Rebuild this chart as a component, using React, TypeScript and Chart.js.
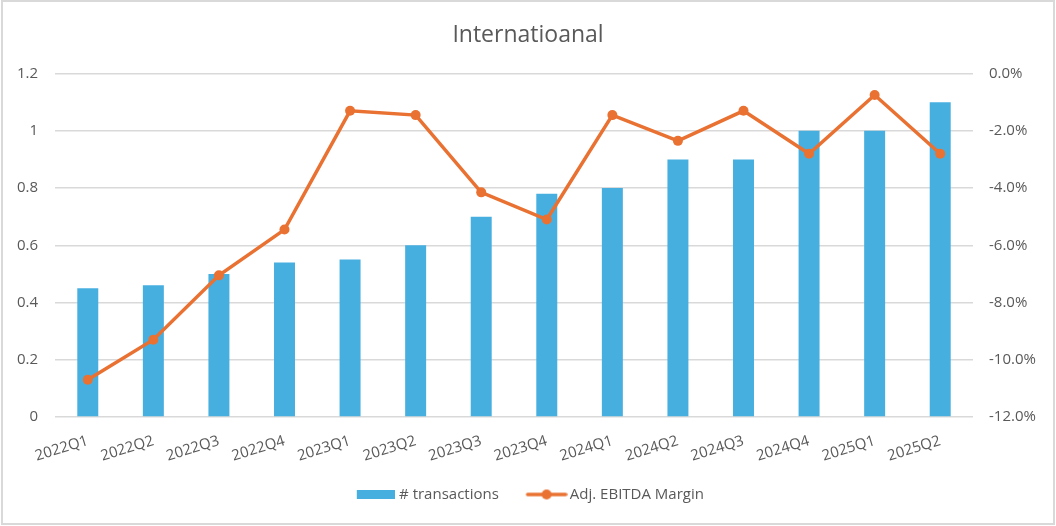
import React, { useEffect, useRef } from "react";
import { Chart, registerables } from "chart.js";

Chart.register(...registerables);

const TITLE = "Internatioanal";
const categories = [
  "2022Q1", "2022Q2", "2022Q3", "2022Q4",
  "2023Q1", "2023Q2", "2023Q3", "2023Q4",
  "2024Q1", "2024Q2", "2024Q3", "2024Q4",
  "2025Q1", "2025Q2",
];
const transactions = [0.45, 0.46, 0.5, 0.54, 0.55, 0.6, 0.7, 0.78, 0.8, 0.9, 0.9, 1.0, 1.0, 1.1];
const ebitdaMargin = [-10.7, -9.3, -7.05, -5.45, -1.3, -1.45, -4.15, -5.1, -1.45, -2.35, -1.3, -2.8, -0.75, -2.8];
const leftTicks = { min: 0, max: 1.2, step: 0.2 };
const rightTicks = { min: -12, max: 0, step: 2 };
const seriesNames = ["# transactions", "Adj. EBITDA Margin"];

const BLUE = "#47AFE0";
const ORANGE = "#E97132";
const TEXT = "#595959";
const GRID = "#d9d9d9";
const FONT = "'Open Sans', 'Liberation Sans', sans-serif";

// legend icons: drawn in the right part of a slightly wider, transparent canvas
function makeBarIcon() {
  const c = document.createElement("canvas");
  c.width = 46;
  c.height = 9;
  const ctx = c.getContext("2d")!;
  ctx.fillStyle = BLUE;
  ctx.fillRect(8, 0, 38, 9);
  return c;
}
function makeLineIcon() {
  const c = document.createElement("canvas");
  c.width = 50;
  c.height = 12;
  const ctx = c.getContext("2d")!;
  ctx.strokeStyle = ORANGE;
  ctx.lineWidth = 3.5;
  ctx.lineCap = "round";
  ctx.beginPath();
  ctx.moveTo(10, 6);
  ctx.lineTo(48, 6);
  ctx.stroke();
  ctx.fillStyle = ORANGE;
  ctx.beginPath();
  ctx.arc(29, 6, 5, 0, Math.PI * 2);
  ctx.fill();
  return c;
}

export default function App() {
  const ref = useRef<HTMLCanvasElement | null>(null);
  useEffect(() => {
    if (!ref.current) return;
    const barIcon = makeBarIcon();
    const lineIcon = makeLineIcon();
    const chart = new Chart(ref.current, {
      type: "bar",
      data: {
        labels: categories,
        datasets: [
          {
            type: "bar",
            label: seriesNames[0],
            data: transactions,
            backgroundColor: BLUE,
            barPercentage: 0.32,
            categoryPercentage: 1,
            yAxisID: "y",
            order: 2,
          },
          {
            type: "line",
            label: seriesNames[1],
            data: ebitdaMargin,
            borderColor: ORANGE,
            backgroundColor: ORANGE,
            borderWidth: 3.5,
            pointRadius: 5,
            pointBorderWidth: 0,
            pointBackgroundColor: ORANGE,
            tension: 0,
            yAxisID: "y1",
            order: 1,
          } as any,
        ],
      },
      options: {
        responsive: false,
        animation: false,
        layout: { padding: { left: 0, right: 0, top: 0, bottom: 14 } },
        plugins: {
          title: {
            display: true,
            text: TITLE,
            color: TEXT,
            font: { family: FONT, size: 23, weight: "normal" },
            padding: { top: 22, bottom: 24 },
          },
          legend: {
            position: "bottom",
            labels: {
              color: TEXT,
              font: { family: FONT, size: 15 },
              usePointStyle: true,
              pointStyleWidth: 39.5,
              padding: 24,
              generateLabels: () => [
                { text: seriesNames[0], pointStyle: barIcon as any, fillStyle: BLUE, strokeStyle: BLUE, lineWidth: 0, datasetIndex: 0, hidden: false, fontColor: TEXT },
                { text: seriesNames[1], pointStyle: lineIcon as any, fillStyle: ORANGE, strokeStyle: ORANGE, lineWidth: 0, datasetIndex: 1, hidden: false, fontColor: TEXT },
              ],
            },
          },
          tooltip: { enabled: false },
        },
        scales: {
          x: {
            grid: { display: false },
            border: { display: false },
            ticks: {
              color: TEXT,
              font: { family: FONT, size: 15 },
              autoSkip: false,
              minRotation: 17,
              maxRotation: 17,
              padding: 7,
            },
            afterFit: (s: any) => { s.height = 46; },
          },
          y: {
            position: "left",
            min: leftTicks.min,
            max: leftTicks.max,
            border: { display: false },
            grid: { color: GRID, lineWidth: 1.5, drawTicks: false },
            ticks: {
              stepSize: leftTicks.step,
              color: TEXT,
              font: { family: FONT, size: 15 },
              padding: 17,
              callback: (v: any) => String(Math.round(Number(v) * 10) / 10),
            },
            afterFit: (s: any) => { s.width = 55; },
          },
          y1: {
            position: "right",
            min: rightTicks.min,
            max: rightTicks.max,
            border: { display: false },
            grid: { display: false, drawTicks: false },
            ticks: {
              stepSize: rightTicks.step,
              color: TEXT,
              font: { family: FONT, size: 15 },
              padding: 16,
              callback: (v: any) => `${(Math.round(Number(v) * 10) / 10).toFixed(1)}%`,
            },
            afterFit: (s: any) => { s.width = 83; },
          },
        },
      },
    });
    return () => chart.destroy();
  }, []);
  return (
    <div style={{ position: "fixed", left: 0, top: 0, width: 1056, height: 526, background: "#fff" }}>
      <canvas ref={ref} width={1056} height={526} style={{ display: "block", width: 1056, height: 526 }} />
      <div
        style={{
          position: "absolute",
          left: 1,
          top: 0,
          width: 1054,
          height: 525,
          border: `2px solid ${GRID}`,
          boxSizing: "border-box",
          pointerEvents: "none",
        }}
      />
    </div>
  );
}
